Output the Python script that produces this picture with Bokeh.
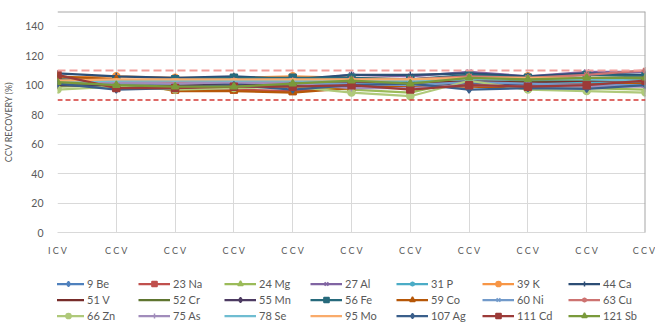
from bokeh.plotting import figure
from bokeh.layouts import column
from bokeh.models import Legend, LegendItem, Span, FixedTicker
from bokeh.embed import file_html
from bokeh.resources import INLINE

categories = ["I C V"] + ["C C V"] * 10
x_vals = list(range(len(categories)))

names = ["9 Be", "23 Na", "24 Mg", "27 Al", "31 P", "39 K", "44 Ca",
         "51 V", "52 Cr", "55 Mn", "56 Fe", "59 Co", "60 Ni", "63 Cu",
         "66 Zn", "75 As", "78 Se", "95 Mo", "107 Ag", "111 Cd", "121 Sb"]

be = [103, 101, 100, 101, 100, 101, 101, 102, 101, 101, 102]
na = [104, 102, 97, 97, 96, 99, 99, 101, 100, 101, 101]
mg = [99, 100, 98, 99, 100, 97, 95, 104, 98, 98, 97]
al = [104, 103, 102, 102, 103, 107, 106, 109, 106, 109, 109]
p_ = [102, 101, 100, 101, 102, 102, 102, 103, 102, 102, 101]
k = [105, 106, 105, 105, 106, 105, 104, 106, 106, 104, 104]
ca = [108, 106, 105, 106, 104, 107, 107, 108, 106, 108, 107]
v = [100, 101, 100, 101, 101, 102, 101, 103, 102, 103, 103]
cr = [101, 100, 99, 100, 101, 103, 103, 105, 103, 104, 104]
mn = [100, 99, 99, 101, 100, 99, 98, 101, 100, 100, 101]
fe = [104, 103, 104, 105, 105, 105, 104, 107, 105, 107, 106]
co = [106, 104, 96, 96, 95, 98, 99, 99, 98, 100, 101]
ni = [102, 101, 101, 102, 101, 101, 100, 102, 101, 100, 100]
cu = [103, 102, 102, 103, 103, 104, 104, 106, 105, 107, 110]
zn = [97, 99, 97, 98, 99, 95, 92.5, 103, 97, 96, 95]
as_ = [101, 102, 101, 102, 101, 98, 98, 100, 99, 99, 99]
se = [102, 103, 103, 103, 103, 103, 103, 104, 104, 104, 103]
mo = [103, 104, 104, 104, 104, 104, 104, 105, 105, 105, 105]
ag = [101, 97, 98, 100, 97, 100, 101, 97, 98, 97.5, 100]
cd = [107, 98, 98, 99, 99, 100, 97, 100, 99, 100, 103]
sb = [102, 100, 99, 99, 101, 103, 101, 105, 104, 105, 105]

series = [be, na, mg, al, p_, k, ca, v, cr, mn, fe, co, ni, cu,
          zn, as_, se, mo, ag, cd, sb]

colors = ["#4F81BD", "#C0504D", "#9BBB59", "#8064A2", "#4BACC6", "#F79646", "#2C4D75",
          "#772C2A", "#5F7530", "#4D3B62", "#276A7C", "#B65708", "#729ACA", "#CD7371",
          "#AFC97A", "#A18CBB", "#6FBDD1", "#F9AB6B", "#3A5F8B", "#9C3B38", "#7A9A3B"]
markers = ["diamond", "square", "triangle", "x", "asterisk", "circle", "cross",
           "dash", "dash", "diamond", "square", "triangle", "x", "asterisk",
           "circle", "cross", "dash", "dash", "diamond", "square", "triangle"]

upper_limit = 110
lower_limit = 90
y_ticks = [0, 20, 40, 60, 80, 100, 120, 140]

FONT = "Lato"
GRAY = "#595959"

p = figure(width=655, height=258, x_range=(0, 10), y_range=(0, 150),
           output_backend="svg", toolbar_location=None,
           min_border_left=56, min_border_right=10, min_border_top=11,
           min_border_bottom=22)
p.outline_line_color = None
p.background_fill_color = "white"

p.xgrid.grid_line_color = "#D9D9D9"
p.ygrid.grid_line_color = "#D9D9D9"
p.xaxis.ticker = FixedTicker(ticks=x_vals)
p.xaxis.major_label_overrides = {i: c for i, c in enumerate(categories)}
p.xgrid.ticker = FixedTicker(ticks=x_vals)
p.yaxis.ticker = FixedTicker(ticks=y_ticks)
p.ygrid.ticker = FixedTicker(ticks=y_ticks)

for ax in (p.xaxis, p.yaxis):
    ax.major_tick_line_color = None
    ax.minor_tick_line_color = None
    ax.major_label_text_font = FONT
    ax.major_label_text_color = GRAY
p.xaxis.major_label_text_font_size = "9px"
p.yaxis.major_label_text_font_size = "10.5px"
p.xaxis.axis_line_color = "#D9D9D9"
p.yaxis.axis_line_color = None
p.xaxis.major_label_standoff = 6
p.yaxis.major_label_standoff = 8
p.yaxis.axis_label = "CCV RECOVERY (%)"
p.yaxis.axis_label_text_font = FONT
p.yaxis.axis_label_text_font_size = "9px"
p.yaxis.axis_label_text_font_style = "normal"
p.yaxis.axis_label_text_color = GRAY
p.yaxis.axis_label_standoff = 8

p.add_layout(Span(location=150, dimension="width", line_color="#A6A6A6", line_width=2))
p.add_layout(Span(location=10, dimension="height", line_color="#A6A6A6", line_width=2))
p.add_layout(Span(location=upper_limit, dimension="width", line_color="#F19C99",
                  line_width=2, line_dash="8 4"))
p.add_layout(Span(location=lower_limit, dimension="width", line_color="#D43A36",
                  line_width=1.5, line_dash="5 3"))

# legend strip below the chart (same series, plotted out of its visible range)
lf = figure(width=655, height=64, x_range=(0, 10), y_range=(0, 1),
            output_backend="svg", toolbar_location=None,
            x_axis_location=None, y_axis_location=None,
            min_border_left=0, min_border_right=0, min_border_top=0,
            min_border_bottom=0)
lf.outline_line_color = None
lf.xgrid.visible = False
lf.ygrid.visible = False

items = []
for name, vals, col, mk in zip(names, series, colors, markers):
    p.line(x_vals, vals, line_color=col, line_width=2.25)
    p.scatter(x_vals, vals, marker=mk, size=7, fill_color=col, line_color=col,
              line_width=1.5)
    l1 = lf.line(x_vals, vals, line_color=col, line_width=2.25)
    l2 = lf.scatter(x_vals, vals, marker=mk, size=7, fill_color=col, line_color=col,
                    line_width=1.5)
    items.append(LegendItem(label=name, renderers=[l1, l2]))

legend = Legend(items=items, orientation="horizontal", ncols=7,
                location=(-5, 0), glyph_width=32, glyph_height=13,
                label_height=13, label_width=48, label_standoff=3, spacing=3,
                padding=0, margin=0, border_line_color=None,
                background_fill_alpha=0, label_text_font=FONT,
                label_text_font_size="11px", label_text_color=GRAY)
lf.add_layout(legend)

layout = column(p, lf, spacing=0)
open("out.html", "w").write(file_html(layout, INLINE))
